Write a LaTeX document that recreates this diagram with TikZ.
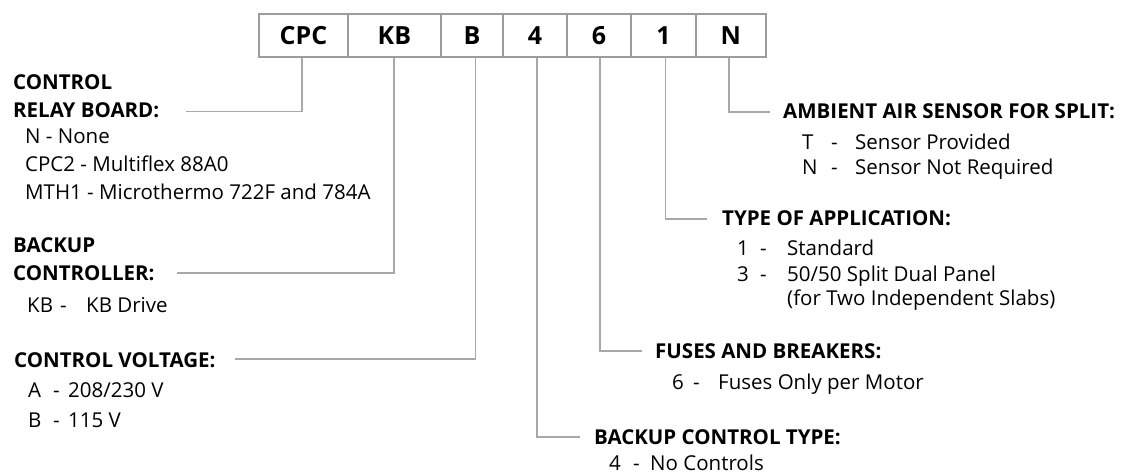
\documentclass[tikz,border=0pt]{standalone}
\usepackage{fontspec}
\setmainfont{Open Sans}
\definecolor{linegray}{HTML}{A8A8A8}
\definecolor{boxgray}{HTML}{9C9C9C}
\tikzset{
  codebox/.style={draw=boxgray, line width=1.8pt, minimum height=43pt, inner sep=0pt,
    font=\fontsize{25}{30}\selectfont\bfseries, anchor=north west},
  lead/.style={draw=linegray, line width=1.3pt},
  head/.style={anchor=base west, inner sep=0pt, font=\fontsize{20.5}{24}\selectfont\bfseries},
  item/.style={anchor=base west, inner sep=0pt, font=\fontsize{20.5}{24}\selectfont},
}
\newcommand{\col}[2]{\makebox[#1pt][l]{#2}}
\begin{document}
\begin{tikzpicture}[x=1pt,y=-1pt]
\useasboundingbox (0,0) rectangle (1142,474);
% code boxes
\node[codebox, minimum width=89pt] (bCPC) at (258,13) {CPC};
\node[codebox, minimum width=93pt] (bKB) at (347,13) {KB};
\node[codebox, minimum width=62pt] (bB) at (440,13) {B};
\node[codebox, minimum width=64pt] (b4) at (502,13) {4};
\node[codebox, minimum width=64pt] (b6) at (566,13) {6};
\node[codebox, minimum width=65pt] (b1) at (630,13) {1};
\node[codebox, minimum width=70pt] (bN) at (695,13) {N};

% corner coordinates
\coordinate (cCPC) at (302,111.5);
\coordinate (eCPC) at (186,111.5);
\coordinate (cKB) at (394,273);
\coordinate (eKB) at (177,273);
\coordinate (cB) at (475.5,359);
\coordinate (eB) at (235,359);
\coordinate (c4) at (537,437);
\coordinate (e4) at (580,437);
\coordinate (c6) at (600,351);
\coordinate (e6) at (642,351);
\coordinate (c1) at (665.5,219);
\coordinate (e1) at (707,219);
\coordinate (cN) at (729,112);
\coordinate (eN) at (770,112);

\draw[lead] (bCPC.south -| cCPC) -- (cCPC) -- (eCPC);
\draw[lead] (bKB.south -| cKB) -- (cKB) -- (eKB);
\draw[lead] (bB.south -| cB) -- (cB) -- (eB);
\draw[lead] (b4.south -| c4) -- (c4) -- (e4);
\draw[lead] (b6.south -| c6) -- (c6) -- (e6);
\draw[lead] (b1.south -| c1) -- (c1) -- (e1);
\draw[lead] (bN.south -| cN) -- (cN) -- (eN);

% left: control relay board
\node[head] (hCRB1) at (13,89) {CONTROL};
\node[head] (hCRB2) at (13,117.5) {RELAY BOARD:};
\node[item] (iCRB1) at (25,143.5) {N - None};
\node[item] (iCRB2) at (25,171.5) {CPC2 - Multiflex 88A0};
\node[item] (iCRB3) at (25,199.5) {MTH1 - Microthermo 722F and 784A};

% backup controller
\node[head] (hBC1) at (13,252) {BACKUP};
\node[head] (hBC2) at (13,280) {CONTROLLER:};
\node[item] (iBC1) at (27,312.5) {\col{33}{KB}\col{26}{-}KB Drive};

% control voltage
\node[head] (hCV) at (14,367) {CONTROL VOLTAGE:};
\node[item] (iCV1) at (28,397.5) {\col{25}{A}\col{15}{-}208/230 V};
\node[item] (iCV2) at (28,427) {\col{25}{B}\col{15}{-}115 V};

% backup control type
\node[head] (hBT) at (594,444.5) {BACKUP CONTROL TYPE:};
\node[item, text depth=0pt] (iBT1) at (609,470.5) {\col{24}{4}\col{17}{-}No Controls};

% fuses
\node[head] (hFB) at (655,358.5) {FUSES AND BREAKERS:};
\node[item] (iFB1) at (672,389) {\col{21}{6}\col{25}{-}Fuses Only per Motor};

% type of application
\node[head] (hTA) at (722,225) {TYPE OF APPLICATION:};
\node[item] (iTA1) at (737,255) {\col{23}{1}\col{27}{-}Standard};
\node[item] (iTA2) at (737,281) {\col{23}{3}\col{27}{-}50/50 Split Dual Panel};
\node[item] (iTA3) at (787,305) {(for Two Independent Slabs)};

% ambient air sensor
\node[head] (hAS) at (783,118) {AMBIENT AIR SENSOR FOR SPLIT:};
\node[item] (iAS1) at (802,149.5) {\col{29}{T}\col{24}{-}Sensor Provided};
\node[item] (iAS2) at (802,174.5) {\col{29}{N}\col{24}{-}Sensor Not Required};
\end{tikzpicture}
\end{document}
